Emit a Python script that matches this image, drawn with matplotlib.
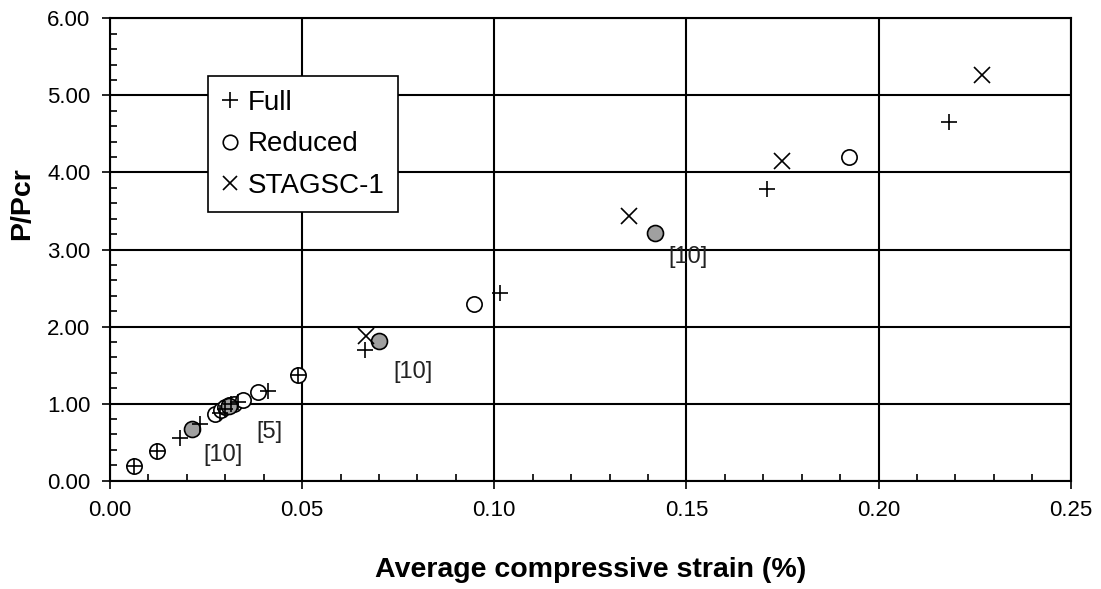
import matplotlib
matplotlib.use("Agg")
import matplotlib.pyplot as plt
from matplotlib.ticker import MultipleLocator, FormatStrFormatter

plt.rcParams['font.family'] = ['Liberation Sans', 'DejaVu Sans']

# Data (strain %, P/Pcr)
full_x = [0.0063, 0.0123, 0.0182, 0.0234, 0.0285, 0.0300, 0.0315, 0.0333, 0.0410, 0.0489, 0.0663, 0.1014, 0.1710, 0.2183]
full_y = [0.19, 0.385, 0.55, 0.74, 0.88, 0.93, 0.99, 1.02, 1.17, 1.37, 1.70, 2.43, 3.79, 4.66]

red_x = [0.0063, 0.0123, 0.0272, 0.0290, 0.0300, 0.0310, 0.0322, 0.0345, 0.0386, 0.0489, 0.0948, 0.1923]
red_y = [0.19, 0.385, 0.86, 0.92, 0.95, 0.98, 1.00, 1.05, 1.15, 1.37, 2.29, 4.20]

refs_x = [0.0214, 0.0310, 0.0700, 0.1417]
refs_y = [0.67, 0.97, 1.81, 3.21]

stag_x = [0.0667, 0.1351, 0.1749, 0.2270]
stag_y = [1.88, 3.43, 4.15, 5.27]

ann_text = ["[5]", "[10]", "[10]", "[10]"]
ann_x = [0.0416, 0.0294, 0.0789, 0.1504]
ann_y = [0.636, 0.333, 1.414, 2.906]

fig = plt.figure(figsize=(11.01, 5.89), dpi=100)
ax = fig.add_axes([0.0999, 0.1839, 0.8726, 0.785])

ax.set_xlim(0, 0.25)
ax.set_ylim(0, 6)
ax.xaxis.set_major_locator(MultipleLocator(0.05))
ax.xaxis.set_minor_locator(MultipleLocator(0.01))
ax.yaxis.set_major_locator(MultipleLocator(1.0))
ax.yaxis.set_minor_locator(MultipleLocator(0.2))
ax.xaxis.set_major_formatter(FormatStrFormatter('%.2f'))
ax.yaxis.set_major_formatter(FormatStrFormatter('%.2f'))
ax.grid(True, which='major', color='black', linewidth=1.5)
ax.set_axisbelow(True)
ax.tick_params(which='major', direction='out', length=6, width=1.2, labelsize=16, pad=8)
ax.tick_params(which='minor', direction='in', length=5, width=1.2)
for s in ax.spines.values():
    s.set_linewidth(1.5)
    s.set_color('black')

ax.plot(red_x, red_y, linestyle='none', marker='o', markersize=11, markerfacecolor='white',
        markeredgecolor='black', markeredgewidth=1.2, label='Reduced', zorder=3)
ax.plot(refs_x, refs_y, linestyle='none', marker='o', markersize=11.5, markerfacecolor='#a0a0a0',
        markeredgecolor='black', markeredgewidth=1.2, zorder=3)
ax.plot(full_x, full_y, linestyle='none', marker='+', markersize=12, color='black',
        markeredgewidth=1.2, label='Full', zorder=4)
ax.plot(stag_x, stag_y, linestyle='none', marker='x', markersize=11, color='black',
        markeredgewidth=1.2, label='STAGSC-1', zorder=4)

for t, x, y in zip(ann_text, ann_x, ann_y):
    ax.text(x, y, t, fontsize=17, ha='center', va='center', color='#222222')

h, l = ax.get_legend_handles_labels()
order = [l.index('Full'), l.index('Reduced'), l.index('STAGSC-1')]
leg = ax.legend([h[i] for i in order], [l[i] for i in order], loc='upper left',
                bbox_to_anchor=(0.102, 0.875), borderaxespad=0, fontsize=20,
                fancybox=False, edgecolor='black', framealpha=1, handlelength=0.6,
                handletextpad=0.32, labelspacing=0.55, borderpad=0.5, markerscale=0.95)
leg.get_frame().set_linewidth(1.2)

ax.set_xlabel('Average compressive strain (%)', fontsize=20.5, fontweight='bold')
ax.xaxis.set_label_coords(0.5, (480.7 - 570) / 462.4)
ax.set_ylabel('P/Pcr', fontsize=20.5, fontweight='bold')
ax.yaxis.set_label_coords((22 - 110) / 960.7, (480.7 - 204) / 462.4)
ax.yaxis.label.set_va('center')
ax.xaxis.label.set_va('center')

fig.savefig('out.png', dpi=100)
